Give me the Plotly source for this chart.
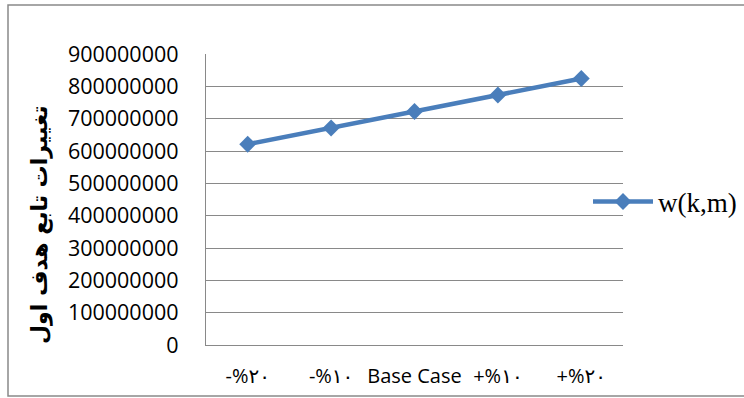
import plotly.graph_objects as go

# Scenario labels (Persian digits) and objective values
scenarios = ["-%۲۰", "-%۱۰", "Base Case", "+%۱۰", "+%۲۰"]
objective_w = [621e6, 671e6, 722e6, 773e6, 824e6]
series_name = "w(k,m)"
y_title = "تغییرات تابع هدف اول"

GRID = "#898989"
BLUE = "#4A7EBB"

fig = go.Figure()
fig.add_trace(go.Scatter(
    x=scenarios,
    y=objective_w,
    mode="lines+markers",
    name=series_name,
    line=dict(color=BLUE, width=4.5),
    marker=dict(symbol="diamond", size=13, color=BLUE),
))

W, H = 744, 398
ML, MR, MT, MB = 206, 121, 54, 53
pw, ph = W - ML - MR, H - MT - MB


def px_to_paper_x(px):
    return (px - ML) / pw


def px_to_paper_y(py):
    return (H - MB - py) / ph


fig.update_layout(
    width=W,
    height=H,
    margin=dict(l=ML, r=MR, t=MT, b=MB, autoexpand=False),
    paper_bgcolor="white",
    plot_bgcolor="white",
    showlegend=True,
    legend=dict(
        x=px_to_paper_x(588),
        y=px_to_paper_y(202),
        xanchor="left",
        yanchor="middle",
        bgcolor="rgba(0,0,0,0)",
        font=dict(family="Liberation Serif", size=27, color="black"),
        itemwidth=60,
    ),
    xaxis=dict(
        type="category",
        range=[-0.5, 4.5],
        showgrid=False,
        showline=True,
        linecolor=GRID,
        linewidth=1.3,
        ticks="",
        ticklabelstandoff=13,
        tickfont=dict(family="Open Sans, DejaVu Sans", size=20, color="black"),
        fixedrange=True,
    ),
    yaxis=dict(
        range=[0, 9e8],
        dtick=1e8,
        tick0=0,
        tickformat="d",
        showgrid=True,
        gridcolor=GRID,
        gridwidth=1.3,
        zeroline=False,
        showline=True,
        linecolor=GRID,
        linewidth=1.3,
        ticks="",
        ticklabelstandoff=22,
        tickfont=dict(family="Open Sans", size=21.5, color="black"),
        fixedrange=True,
    ),
    annotations=[
        dict(
            text="<b>" + y_title + "</b>",
            xref="paper",
            yref="paper",
            x=px_to_paper_x(40),
            y=px_to_paper_y(225),
            xanchor="center",
            yanchor="middle",
            textangle=-90,
            showarrow=False,
            font=dict(family="DejaVu Sans", size=22, color="black"),
        )
    ],
    shapes=[
        dict(
            type="rect",
            xref="paper",
            yref="paper",
            x0=px_to_paper_x(8),
            x1=px_to_paper_x(770),
            y0=px_to_paper_y(396),
            y1=px_to_paper_y(5),
            line=dict(color=GRID, width=1.5),
            layer="below",
        )
    ],
)

fig.write_html("out.html")
